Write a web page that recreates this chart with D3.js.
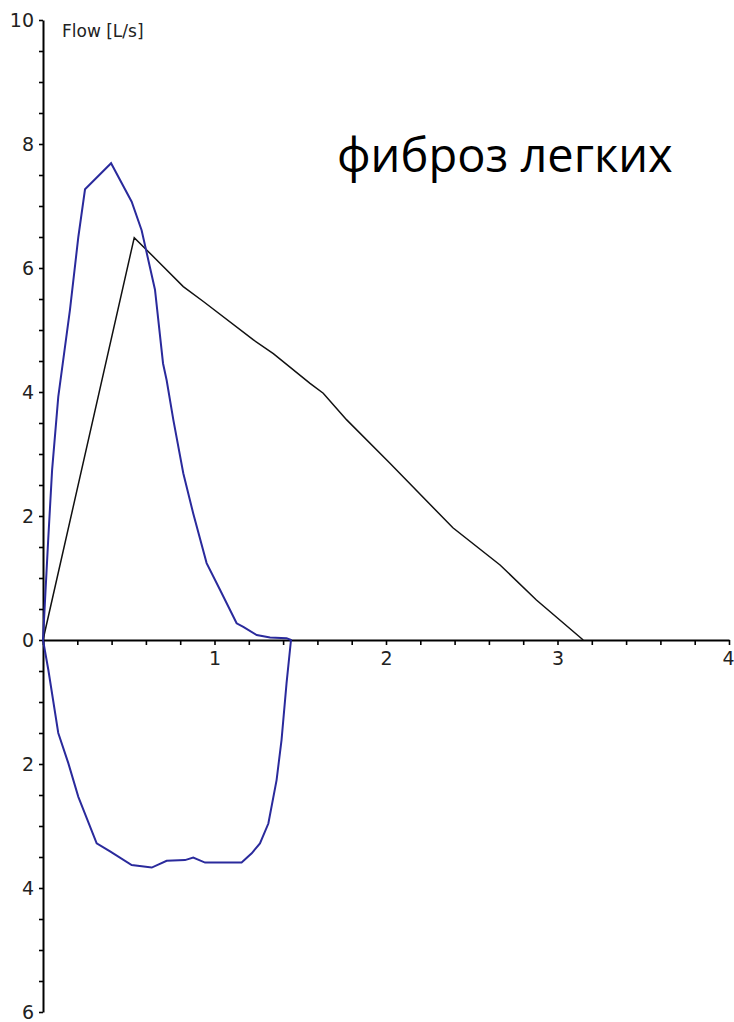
<!DOCTYPE html>
<html>
<head>
<meta charset="utf-8">
<script src="https://cdn.jsdelivr.net/npm/d3@7"></script>
<style>
    html, body { margin: 0; padding: 0; background: #ffffff; }
    svg { display: block; }
</style>
</head>
<body>
<script>
"use strict";



//
// Data (volume [L], flow [L/s])
//

var measuredVolume = [0, 0.012, 0.03, 0.053, 0.089, 0.157, 0.206, 0.245, 0.397, 0.517, 0.575, 0.614,
    0.653, 0.70, 0.721, 0.760, 0.818, 0.876, 0.954, 1.032, 1.129, 1.168, 1.246, 1.324, 1.42, 1.446,
    1.42, 1.391, 1.362, 1.314, 1.265, 1.217, 1.158, 0.945, 0.876, 0.828, 0.721, 0.634, 0.517,
    0.391, 0.313, 0.206, 0.148, 0.089, 0.031, 0];

var measuredFlow = [0, 0.65, 1.6, 2.74, 3.92, 5.32, 6.5, 7.27, 7.69, 7.07, 6.61, 6.13,
    5.65, 4.46, 4.19, 3.55, 2.69, 2.04, 1.24, 0.81, 0.27, 0.21, 0.08, 0.04, 0.03, 0,
    -0.70, -1.61, -2.26, -2.96, -3.28, -3.44, -3.59, -3.59, -3.51, -3.55, -3.56, -3.67, -3.63,
    -3.41, -3.28, -2.53, -1.99, -1.5, -0.48, 0];

var predictedVolume = [0, 0.532, 0.663, 0.818, 0.935, 1.227, 1.343, 1.557, 1.634, 1.771,
    2.023, 2.39, 2.665, 2.877, 3.15];

var predictedFlow = [0, 6.49, 6.13, 5.70, 5.46, 4.84, 4.62, 4.14, 3.98, 3.55,
    2.85, 1.81, 1.21, 0.645, 0];

var yTickValues = d3.range(-6, 10.001, 0.5);
var xTickValues = d3.range(0, 4.001, 0.2);
var xLabelValues = [1, 2, 3, 4];

var chartTitle = "фиброз легких";
var axisTitle = "Flow [L/s]";



//
// Layout
//

var width = 734,
    height = 1022;

var xScale = d3.scaleLinear().domain([0, 4]).range([43, 729]);
var yScale = d3.scaleLinear().domain([-6, 10]).range([1012, 20]);

var svg = d3.select("body").append("svg")
    .attr("width", width)
    .attr("height", height)
    .style("background", "#ffffff");

function isLabelled (v) {
    return Math.abs(v - Math.round(v)) < 1e-6 && Math.round(v) % 2 === 0;
}



//
// Axes
//

var yAxis = d3.axisLeft(yScale)
    .tickValues(yTickValues)
    .tickSize(4)
    .tickSizeOuter(0)
    .tickPadding(5)
    .tickFormat(function (d) { return isLabelled(d) ? String(Math.abs(Math.round(d))) : ""; });

var yAxisGroup = svg.append("g")
    .attr("transform", "translate(" + xScale(0) + ",0)")
    .call(yAxis);

var xAxis = d3.axisBottom(xScale)
    .tickValues(xTickValues)
    .tickSize(5)
    .tickSizeOuter(0)
    .tickPadding(7)
    .tickFormat(function (d) {
        var r = Math.round(d);
        return (Math.abs(d - r) < 1e-6 && xLabelValues.indexOf(r) >= 0) ? String(r) : "";
    });

var xAxisGroup = svg.append("g")
    .attr("transform", "translate(0," + yScale(0) + ")")
    .call(xAxis);

[yAxisGroup, xAxisGroup].forEach(function (g) {
    g.select(".domain").attr("stroke", "#000").attr("stroke-width", 2);
    g.selectAll(".tick line").attr("stroke", "#000").attr("stroke-width", 1.6);
    g.selectAll(".tick text")
        .attr("fill", "#222")
        .style("font-family", "'DejaVu Sans', sans-serif")
        .style("font-size", "19px");
});

// keep the last x label inside the picture
xAxisGroup.selectAll(".tick text")
    .filter(function (d) { return Math.abs(d - 4) < 1e-6; })
    .attr("text-anchor", "end")
    .attr("dx", 5);



//
// Curves
//

var line = d3.line()
    .x(function (d) { return xScale(d[0]); })
    .y(function (d) { return yScale(d[1]); });

var predicted = d3.zip(predictedVolume, predictedFlow);
var measured = d3.zip(measuredVolume, measuredFlow);

svg.append("path")
    .datum(predicted)
    .attr("d", line)
    .attr("fill", "none")
    .attr("stroke", "#111")
    .attr("stroke-width", 1.5);

svg.append("path")
    .datum(measured)
    .attr("d", line)
    .attr("fill", "none")
    .attr("stroke", "#2a2a9c")
    .attr("stroke-width", 2);



//
// Texts
//

svg.append("text")
    .attr("x", 62)
    .attr("y", 37)
    .attr("fill", "#222")
    .style("font-family", "'DejaVu Sans', sans-serif")
    .style("font-size", "17px")
    .text(axisTitle);

svg.append("text")
    .attr("x", 337)
    .attr("y", 172)
    .attr("fill", "#000")
    .style("font-family", "'Open Sans', sans-serif")
    .style("font-size", "47px")
    .text(chartTitle);
</script>
</body>
</html>
